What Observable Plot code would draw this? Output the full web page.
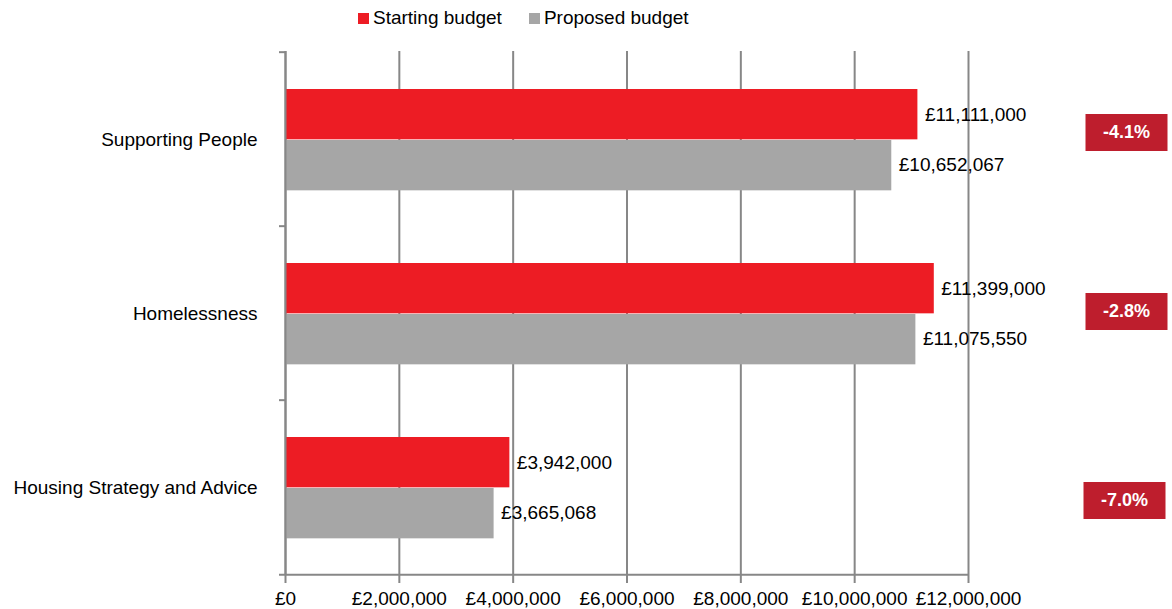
<!DOCTYPE html>
<html><head><meta charset="utf-8">
<script src="https://cdn.jsdelivr.net/npm/d3@7"></script>
<script src="https://cdn.jsdelivr.net/npm/@observablehq/plot@0.6"></script>
<style>
body{margin:0;background:#fff;font-family:"Liberation Sans",Arial,sans-serif;}
#wrap{position:relative;width:1172px;height:609px;overflow:hidden;}
#legend{height:36px;display:flex;align-items:center;padding-left:358px;font-size:19px;color:#000;box-sizing:border-box;}
#legend .item{display:flex;align-items:center;margin-right:27px;}
#legend .sw{width:11px;height:11px;margin-right:4px;display:inline-block;}
</style></head><body>
<div id="wrap"><div id="legend"></div><div id="chart"></div></div>
<script>
const categories = ["Supporting People", "Homelessness", "Housing Strategy and Advice"];
const seriesNames = ["Starting budget", "Proposed budget"];
const startingBudget = [11111000, 11399000, 3942000];
const proposedBudget = [10652067, 11075550, 3665068];
const xTicks = [0, 2000000, 4000000, 6000000, 8000000, 10000000, 12000000];
const seriesColors = ["#ED1C24", "#A6A6A6"];
const boxColor = "#BE1E2D";
const lineColor = "#878787";

const money = v => "£" + d3.format(",")(v);
const pct = (s, p) => d3.format(".1%")((p - s) / s).replace("\u2212", "-");

const startRows = categories.map((c, i) => ({category: c, value: startingBudget[i]}));
const propRows = categories.map((c, i) => ({category: c, value: proposedBudget[i]}));
const changeRows = categories.map((c, i) => ({category: c, x: xTicks[xTicks.length - 1], label: pct(startingBudget[i], proposedBudget[i])}));

// legend
const legend = document.getElementById("legend");
seriesNames.forEach((s, i) => {
  const it = document.createElement("span"); it.className = "item";
  const sw = document.createElement("span"); sw.className = "sw"; sw.style.background = seriesColors[i];
  it.appendChild(sw); it.appendChild(document.createTextNode(s));
  legend.appendChild(it);
});

const rectSymbol = {draw(ctx) { ctx.rect(-41, -18.5, 82, 37); }};
const boxOffsets = [[158, -7], [158, -2], [156, 13]];
const H = 573, mt = 15, mb = 34;
const band = (H - mt - mb) / categories.length;

const boxMarks = [];
changeRows.forEach((r, i) => {
  const [dx, dy] = boxOffsets[i];
  boxMarks.push(Plot.dot([r], {x: "x", y: "category", symbol: rectSymbol, r: 10, fill: boxColor, stroke: null, dx, dy}));
  boxMarks.push(Plot.text([r], {x: "x", y: "category", text: "label", fill: "white", fontWeight: "bold", fontSize: 18, dx, dy}));
});

const chart = Plot.plot({
  width: 1172, height: H,
  marginLeft: 285, marginRight: 204, marginTop: mt, marginBottom: mb,
  style: {fontFamily: "Liberation Sans, Arial, sans-serif", fontSize: "19px", color: "black", background: "white", overflow: "visible"},
  x: {domain: [0, 12000000]},
  y: {domain: categories, padding: 0},
  marks: [
    Plot.gridX(xTicks, {stroke: lineColor, strokeOpacity: 1, strokeWidth: 2}),
    Plot.barX(startRows, {x: "value", y: "category", fill: seriesColors[0], insetTop: 37, insetBottom: band - 88}),
    Plot.barX(propRows, {x: "value", y: "category", fill: seriesColors[1], insetTop: 88, insetBottom: band - 139}),
    Plot.ruleX([0], {stroke: lineColor, strokeWidth: 2}),
    Plot.ruleY(categories, {y: d => d, x1: 0, x2: 0, insetLeft: -6, dy: -band / 2, stroke: lineColor, strokeWidth: 2}),
    Plot.ruleY([categories[categories.length - 1]], {y: d => d, x1: 0, x2: 12000000, insetLeft: -6, dy: band / 2, stroke: lineColor, strokeWidth: 2}),
    Plot.text(startRows, {x: "value", y: "category", text: d => money(d.value), textAnchor: "start", dx: 7, dy: -25, fontSize: 19, fill: "black"}),
    Plot.text(propRows, {x: "value", y: "category", text: d => money(d.value), textAnchor: "start", dx: 7, dy: 25, fontSize: 19, fill: "black"}),
    Plot.axisX(xTicks, {tickSize: 8, tickPadding: 8, tickFormat: v => money(v), fontSize: 19, stroke: lineColor, strokeWidth: 2, fill: "black", label: null}),
    Plot.axisY({tickSize: 0, tickPadding: 28, fontSize: 19, fill: "black", label: null}),
    ...boxMarks
  ]
});
document.getElementById("chart").appendChild(chart);
</script>
</body></html>
